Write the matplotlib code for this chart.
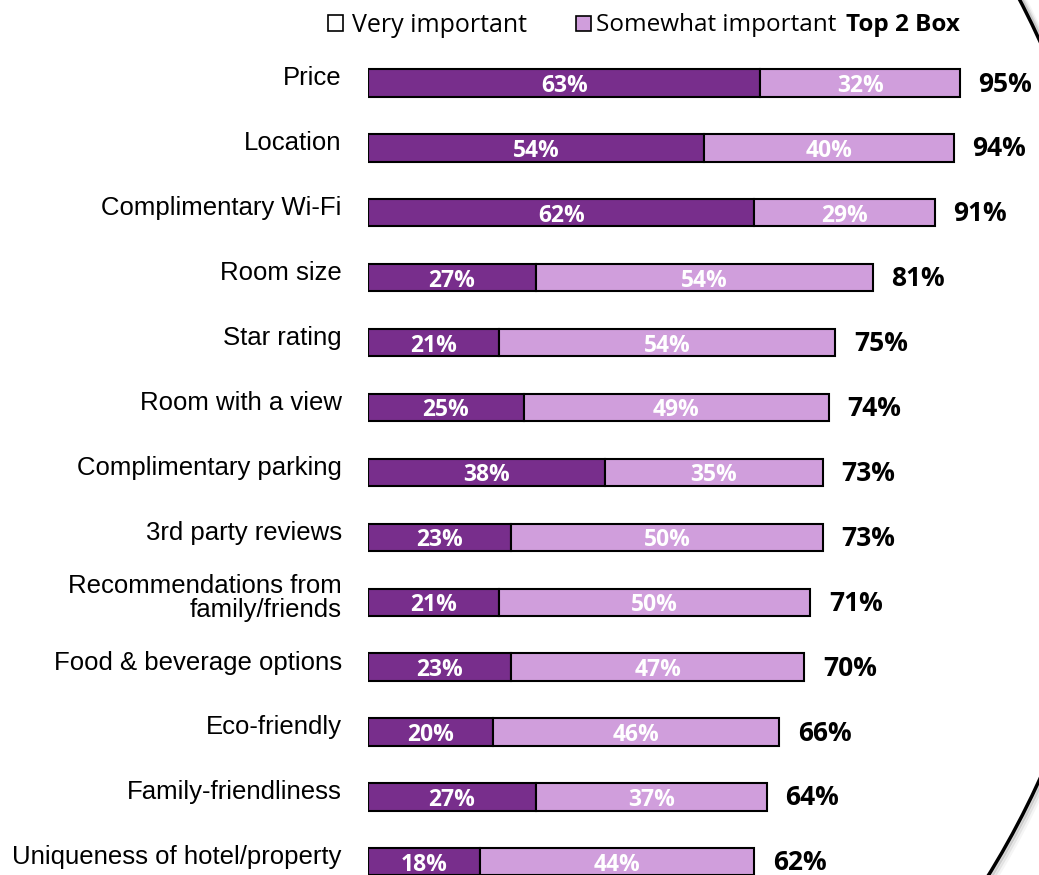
import matplotlib
matplotlib.use('Agg')
import matplotlib.pyplot as plt
from matplotlib.patches import Rectangle, Ellipse

# survey data: share of respondents rating each hotel attribute
attributes = ['Price', 'Location', 'Complimentary Wi-Fi', 'Room size', 'Star rating',
              'Room with a view', 'Complimentary parking', '3rd party reviews',
              'Recommendations from\nfamily/friends', 'Food & beverage options',
              'Eco-friendly', 'Family-friendliness', 'Uniqueness of hotel/property']
very_important = [63, 54, 62, 27, 21, 25, 38, 23, 21, 23, 20, 27, 18]
somewhat_important = [32, 40, 29, 54, 54, 49, 35, 50, 50, 47, 46, 37, 44]
top2_box = [95, 94, 91, 81, 75, 74, 73, 73, 71, 70, 66, 64, 62]

dark = '#782E8C'
light = '#D09EDC'

W, H = 1039, 875
fig = plt.figure(figsize=(W / 100, H / 100), dpi=100)

ax = fig.add_axes([368 / W, 0, 1 - 368 / W, 1])
ax.set_xlim(0, (W - 368) / 6.23)
ax.set_ylim((H - 83) / 64.9, -83 / 64.9)
ax.axis('off')

rows = range(len(attributes))
ax.barh(rows, very_important, height=0.42, color=dark, edgecolor='black', linewidth=1.5)
ax.barh(rows, somewhat_important, left=very_important, height=0.42,
        color=light, edgecolor='black', linewidth=1.5)

bold = dict(family='Open Sans', weight='bold')
for i, name in enumerate(attributes):
    v, s, t = very_important[i], somewhat_important[i], top2_box[i]
    ax.text(v / 2, i, '%d%%' % v, ha='center', va='center_baseline',
            color='white', fontsize=16.5, **bold)
    ax.text(v + s / 2, i, '%d%%' % s, ha='center', va='center_baseline',
            color='white', fontsize=16.5, **bold)
    ax.text(t + 3, i - 0.03, '%d%%' % t, ha='left', va='center_baseline',
            color='black', fontsize=19, **bold)
    ax.text(-4.2, i - 0.07, name, ha='right', va='center', fontsize=18.5,
            family='Liberation Sans', linespacing=1.0, clip_on=False)

# legend row along the top
def fx(px):
    return px / W

def fy(py):
    return 1 - py / H

fig.patches.append(Rectangle((fx(328), fy(31)), 15 / W, 16 / H, facecolor='white',
                             edgecolor='black', linewidth=1.2, transform=fig.transFigure))
fig.text(fx(352), fy(25), 'Very important', ha='left', va='center',
         fontsize=18, family='Open Sans')
fig.patches.append(Rectangle((fx(576), fy(31)), 15 / W, 15 / H, facecolor=light,
                             edgecolor='black', linewidth=1.2, transform=fig.transFigure))
fig.text(fx(596), fy(25), 'Somewhat important', ha='left', va='center',
         fontsize=17.5, family='Open Sans')
fig.text(fx(846), fy(25), 'Top 2 Box', ha='left', va='center', fontsize=17.5, **bold)

# curved frame on the right with a soft shadow
for k, a in [(6, 0.08), (4, 0.15), (2, 0.3)]:
    fig.patches.append(Ellipse((250 / 100, (H - 410 - k / 2) / 100), 2 * (870 + k) / 100,
                               2 * (880 + k) / 100, fill=False, edgecolor='gray',
                               linewidth=3, alpha=a, transform=fig.dpi_scale_trans))
fig.patches.append(Ellipse((250 / 100, (H - 410) / 100), 2 * 870 / 100, 2 * 880 / 100,
                           fill=False, edgecolor='black', linewidth=2.5,
                           transform=fig.dpi_scale_trans))

fig.savefig('out.png', dpi=100)
